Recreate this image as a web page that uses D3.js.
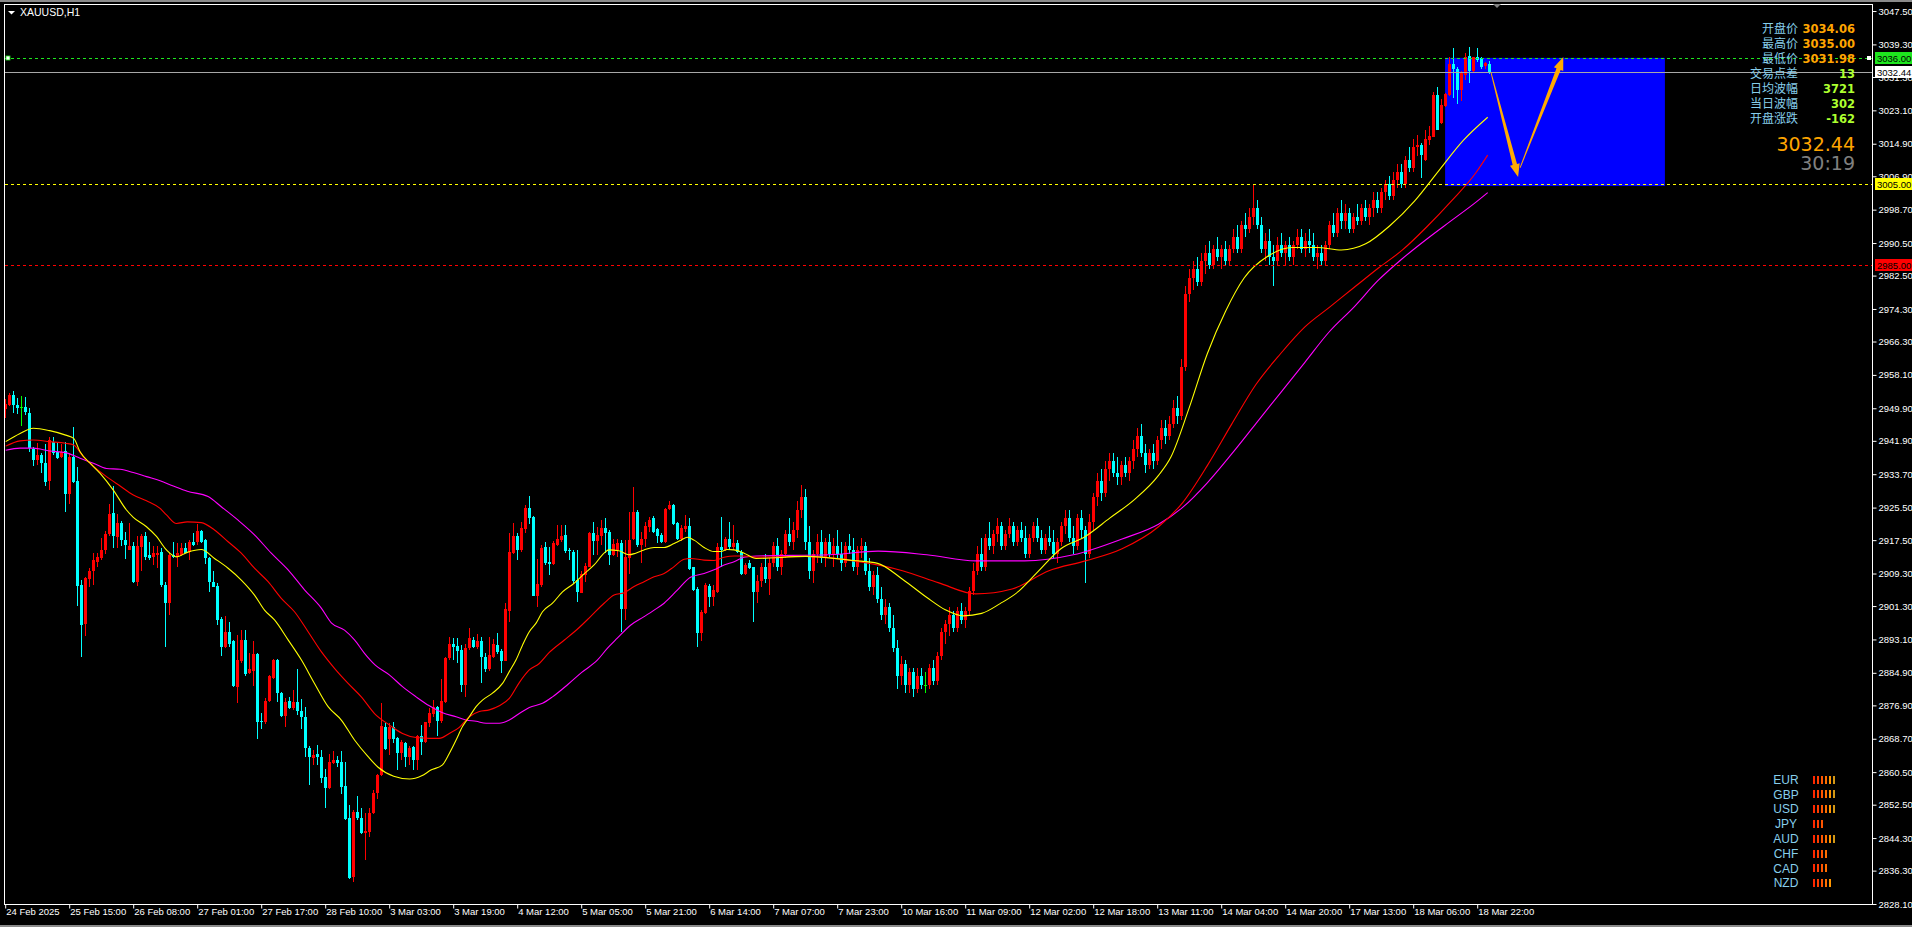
<!DOCTYPE html>
<html><head><meta charset="utf-8">
<script src="https://cdn.jsdelivr.net/npm/d3@7"></script>
<style>
html,body{margin:0;padding:0;background:#000;overflow:hidden}
svg{display:block}
</style></head>
<body><svg id="chart" width="1912" height="927"></svg>
<script>
// ---------------- DATA ----------------
const symbolTitle = "XAUUSD,H1";
const timeLabels = ["24 Feb 2025","25 Feb 15:00","26 Feb 08:00","27 Feb 01:00","27 Feb 17:00","28 Feb 10:00","3 Mar 03:00","3 Mar 19:00","4 Mar 12:00","5 Mar 05:00","5 Mar 21:00","6 Mar 14:00","7 Mar 07:00","7 Mar 23:00","10 Mar 16:00","11 Mar 09:00","12 Mar 02:00","12 Mar 18:00","13 Mar 11:00","14 Mar 04:00","14 Mar 20:00","17 Mar 13:00","18 Mar 06:00","18 Mar 22:00"];
const barsPerLabel = 16;
const priceTicks = [3047.50,3039.30,3031.30,3023.10,3014.90,3006.90,2998.70,2990.50,2982.50,2974.30,2966.30,2958.10,2949.90,2941.90,2933.70,2925.50,2917.50,2909.30,2901.30,2893.10,2884.90,2876.90,2868.70,2860.50,2852.50,2844.30,2836.30,2828.10];

// hourly candles: [open, high, low, close]
const ohlc = [
[2949.6,2952.1,2947.4,2951.0],[2950.7,2953.6,2950.5,2953.2],[2953.2,2954.2,2948.7,2950.7],[2950.7,2952.4,2948.5,2949.9],[2950.1,2952.9,2945.6,2950.1],
[2950.3,2952.6,2948.2,2949.1],[2948.8,2949.9,2939.2,2940.1],[2939.8,2940.5,2935.6,2937.2],[2937.2,2941.3,2936.0,2938.4],[2938.4,2939.0,2933.9,2936.4],
[2936.4,2941.0,2930.8,2931.9],[2932.1,2942.9,2929.8,2942.1],[2941.7,2942.8,2938.4,2939.0],[2939.2,2941.3,2937.4,2937.6],[2938.0,2941.1,2937.6,2939.2],
[2939.4,2941.7,2924.5,2928.8],[2928.8,2939.0,2926.4,2938.0],[2938.0,2945.2,2931.5,2931.9],[2932.1,2935.4,2901.2,2906.2],[2906.5,2907.7,2888.7,2896.6],
[2896.9,2908.5,2893.9,2908.1],[2907.9,2910.6,2906.1,2909.8],[2909.8,2914.4,2906.5,2912.6],[2912.2,2914.4,2911.0,2913.4],[2913.0,2918.0,2912.6,2915.2],
[2915.2,2919.8,2914.1,2919.0],[2919.0,2926.5,2918.4,2923.9],[2924.1,2930.8,2915.5,2918.4],[2918.2,2923.9,2915.5,2921.6],[2921.6,2922.3,2916.1,2917.5],
[2917.5,2919.6,2912.8,2916.3],[2915.1,2921.6,2915.1,2916.1],[2916.1,2917.1,2906.9,2907.1],[2907.3,2918.4,2906.2,2916.1],[2915.9,2919.0,2910.0,2918.5],
[2918.5,2919.6,2912.6,2913.4],[2913.8,2917.1,2912.6,2913.0],[2913.4,2916.1,2911.4,2914.4],[2913.8,2916.1,2910.6,2914.4],[2914.7,2915.5,2906.1,2906.5],
[2906.5,2907.1,2891.3,2902.1],[2902.1,2914.3,2899.1,2913.8],[2913.8,2917.1,2913.0,2913.4],[2913.4,2916.7,2910.8,2914.4],[2913.8,2916.7,2913.6,2915.5],
[2915.5,2916.7,2914.3,2914.4],[2914.7,2917.5,2912.5,2917.1],[2917.0,2919.3,2916.1,2916.3],[2917.0,2921.5,2916.3,2919.8],[2919.8,2920.0,2916.7,2917.1],
[2917.5,2917.7,2911.6,2913.0],[2913.1,2913.3,2904.8,2907.1],[2907.2,2909.8,2905.9,2906.1],[2906.2,2906.9,2896.7,2897.9],[2898.2,2898.7,2889.0,2891.3],
[2891.3,2898.9,2890.9,2895.0],[2894.9,2897.4,2891.3,2892.1],[2892.6,2893.0,2881.3,2881.7],[2881.5,2894.2,2877.6,2888.1],[2887.7,2895.4,2887.4,2893.0],
[2893.0,2895.4,2884.0,2884.5],[2884.8,2889.7,2884.6,2885.8],[2885.4,2892.7,2881.7,2889.5],[2889.5,2889.7,2868.6,2872.9],[2873.1,2875.0,2871.0,2872.7],
[2872.9,2878.6,2872.3,2878.1],[2878.1,2884.4,2877.8,2884.0],[2883.6,2888.2,2883.3,2888.1],[2888.1,2888.4,2877.8,2879.9],[2880.0,2880.2,2874.0,2874.3],
[2874.3,2878.6,2871.7,2877.8],[2878.1,2878.9,2875.9,2876.3],[2876.3,2880.8,2875.8,2877.8],[2877.8,2885.8,2874.5,2875.4],[2875.5,2878.4,2871.0,2874.0],
[2874.1,2876.6,2864.1,2866.4],[2866.5,2866.9,2857.3,2864.1],[2863.9,2866.0,2862.3,2864.7],[2864.9,2867.2,2862.3,2864.1],[2864.3,2866.0,2857.9,2859.1],
[2859.4,2861.2,2851.6,2856.5],[2856.5,2865.0,2856.3,2862.9],[2862.8,2865.8,2862.5,2863.5],[2863.5,2864.5,2861.8,2862.8],[2863.0,2865.8,2855.1,2856.9],
[2857.1,2862.9,2848.7,2848.9],[2849.2,2852.4,2834.2,2834.4],[2834.7,2851.2,2833.4,2850.8],[2850.8,2854.6,2848.7,2849.2],[2849.2,2851.6,2845.3,2845.6],
[2845.6,2850.4,2838.8,2846.1],[2845.9,2851.6,2844.6,2850.5],[2850.5,2856.1,2850.1,2855.4],[2855.3,2860.1,2853.8,2859.8],[2859.8,2877.4,2859.6,2871.8],
[2871.7,2872.5,2865.9,2866.3],[2868.6,2872.5,2864.7,2871.5],[2871.7,2872.9,2867.6,2868.6],[2869.0,2869.2,2861.0,2865.1],[2865.1,2868.4,2863.5,2868.0],
[2867.7,2868.0,2861.8,2864.1],[2864.1,2866.8,2862.3,2866.4],[2866.6,2866.9,2861.0,2863.6],[2863.6,2869.6,2861.0,2869.4],[2869.4,2872.1,2864.7,2868.0],
[2868.0,2872.9,2867.6,2872.7],[2872.5,2876.2,2871.5,2875.1],[2874.8,2878.2,2874.1,2876.4],[2876.4,2876.7,2869.4,2873.1],[2873.1,2883.5,2872.5,2878.0],
[2877.8,2888.9,2877.6,2888.6],[2888.5,2893.8,2888.0,2892.1],[2892.0,2893.4,2888.0,2891.3],[2891.5,2893.4,2887.2,2890.3],[2890.5,2891.7,2880.3,2881.9],
[2881.9,2892.0,2878.9,2891.1],[2891.1,2896.0,2890.5,2893.4],[2893.0,2893.8,2890.9,2891.3],[2891.3,2894.4,2890.7,2892.6],[2892.6,2893.8,2882.5,2888.7],
[2888.9,2889.8,2885.2,2885.8],[2885.8,2893.8,2885.4,2889.3],[2888.9,2893.2,2888.5,2892.0],[2891.7,2894.8,2889.5,2890.1],[2890.3,2890.7,2884.9,2887.9],
[2887.9,2902.0,2887.7,2900.7],[2900.2,2919.2,2897.5,2914.7],[2914.4,2921.6,2914.1,2918.5],[2918.5,2919.2,2912.5,2915.1],[2915.1,2922.0,2914.7,2920.6],
[2920.2,2926.1,2919.2,2925.5],[2925.5,2928.3,2921.5,2922.9],[2923.3,2923.4,2903.8,2903.8],[2903.8,2912.8,2901.0,2906.7],[2906.5,2916.3,2906.1,2915.6],
[2915.9,2917.1,2911.4,2911.8],[2912.2,2915.9,2908.9,2911.6],[2911.6,2917.4,2911.4,2916.7],[2916.3,2921.2,2916.1,2917.7],[2917.5,2921.2,2917.1,2918.4],
[2918.8,2921.2,2914.4,2914.9],[2915.2,2915.5,2912.6,2914.9],[2914.7,2915.2,2906.7,2907.5],[2907.7,2915.1,2902.4,2904.8],[2904.6,2909.8,2904.4,2909.2],
[2908.9,2911.8,2907.3,2911.2],[2911.0,2919.6,2910.8,2919.3],[2919.3,2922.0,2913.8,2917.4],[2917.4,2920.8,2913.8,2918.8],[2918.5,2922.4,2916.3,2920.4],
[2920.4,2922.9,2914.4,2919.3],[2919.6,2920.0,2911.4,2913.8],[2913.8,2917.7,2913.6,2916.5],[2915.2,2917.9,2913.3,2916.7],[2916.7,2917.5,2895.0,2900.5],
[2900.5,2917.5,2898.0,2913.3],[2913.0,2924.5,2909.3,2917.5],[2917.9,2930.6,2917.5,2924.5],[2924.5,2924.9,2915.9,2916.3],[2916.3,2919.6,2912.0,2917.9],
[2917.7,2922.0,2915.9,2921.0],[2920.8,2923.3,2919.6,2922.4],[2922.9,2923.4,2919.3,2919.6],[2920.2,2920.6,2916.9,2918.4],[2918.8,2919.2,2916.7,2917.1],
[2917.1,2925.3,2916.9,2925.1],[2925.1,2927.0,2924.9,2926.1],[2926.1,2926.4,2921.2,2921.5],[2921.8,2922.0,2917.5,2917.7],[2917.7,2921.2,2917.4,2920.6],
[2920.2,2923.7,2919.6,2921.0],[2921.0,2922.9,2910.2,2910.3],[2910.8,2911.0,2905.1,2905.2],[2905.4,2905.9,2891.3,2894.6],[2894.6,2900.3,2892.6,2899.9],
[2899.7,2906.9,2899.3,2906.5],[2906.2,2906.7,2901.1,2903.6],[2903.6,2906.5,2901.3,2905.2],[2904.8,2916.9,2904.6,2915.7],[2915.7,2923.3,2911.0,2915.1],
[2915.1,2918.3,2914.9,2917.7],[2917.7,2922.0,2915.1,2915.7],[2915.7,2921.2,2915.1,2916.9],[2916.9,2917.5,2914.4,2914.7],[2914.7,2915.1,2908.9,2909.2],
[2909.2,2911.8,2908.9,2911.4],[2911.8,2912.6,2910.3,2910.6],[2910.8,2911.0,2897.5,2904.8],[2904.8,2909,2902,2907.5],[2907.5,2912,2906,2911],
[2911,2914,2907,2908],[2908,2913,2904,2912],[2912,2917,2911,2916],[2916,2918,2910,2911],[2911,2915,2909,2914],
[2914,2920,2913,2919],[2919,2923,2916,2917],[2917,2922,2915,2920],[2920,2927,2918,2925],[2925,2931,2923,2928],
[2928,2930,2915,2917],[2917,2921,2908,2910],[2910,2915,2907,2914],[2914,2919,2912,2917],[2917,2920,2912,2913],
[2913,2918,2911,2917],[2917,2919,2913,2914],[2914,2918,2911,2916],[2916,2920,2913,2914],[2914,2917,2910,2912],
[2912,2917,2911,2916],[2916,2919,2914,2915],[2915,2918,2910,2911],[2911,2916,2909,2915],[2915,2918,2913,2916],
[2916,2917,2909,2910],[2910,2913,2905,2906],[2906,2910,2904,2909],[2909,2911,2902,2903],[2903,2906,2898,2899],
[2899,2903,2897,2901],[2901,2902,2895,2896],[2896,2899,2890,2891],[2891,2893,2881,2884],[2884,2889,2882,2887],
[2887,2888,2880,2882],[2882,2886,2880,2885],[2885,2886,2879,2881],[2881,2886,2880,2884],[2884,2886,2881,2882],
[2882,2885,2880,2882],[2882,2887,2881,2886],[2886,2888,2882,2883],[2883,2890,2882,2889],[2889,2896,2888,2895],
[2895,2898,2892,2897],[2897,2901,2894,2899],[2899,2900,2895,2896],[2896,2901,2895,2900],[2900,2902,2897,2898],
[2898,2901,2896,2900],[2900,2906,2899,2905],[2905,2912,2904,2910],[2910,2916,2909,2914],[2914,2918,2910,2911],
[2911,2919,2910,2918],[2918,2922,2915,2916],[2916,2920,2914,2919],[2919,2923,2917,2921],[2921,2922,2915,2916],
[2916,2920,2915,2919],[2919,2923,2918,2921],[2921,2922,2916,2917],[2917,2921,2916,2920],[2920,2922,2917,2918],
[2918,2921,2913,2914],[2914,2919,2913,2918],[2918,2922,2917,2921],[2921,2923,2917,2918],[2918,2920,2914,2915],
[2915,2919,2914,2918],[2918,2921,2916,2917],[2917,2920,2913,2914],[2914,2918,2912,2917],[2917,2922,2916,2921],
[2921,2925,2919,2923],[2923,2925,2917,2918],[2918,2921,2914,2916],[2916,2924,2915,2923],[2923,2925,2918,2920],
[2920,2921,2907,2914],[2914,2924,2913,2922],[2922,2929,2920,2928],[2928,2934,2926,2932],[2932,2935,2927,2929],
[2929,2937,2928,2935],[2935,2939,2932,2937],[2937,2939,2933,2934],[2934,2938,2931,2933],[2933,2937,2931,2936],
[2936,2938,2933,2934],[2934,2938,2932,2937],[2937,2942,2935,2940],[2940,2945,2938,2943],[2943,2946,2938,2939],
[2939,2941,2934,2936],[2936,2940,2935,2939],[2939,2941,2935,2937],[2937,2943,2936,2942],[2942,2947,2940,2945],
[2945,2947,2941,2943],[2943,2948,2942,2946],[2946,2952,2945,2950],[2950,2953,2946,2948],[2948,2962,2947,2960],
[2960,2980,2959,2978],[2978,2984,2976,2982],[2982,2986,2979,2984],[2984,2987,2980,2981],[2981,2988,2980,2986],
[2986,2990,2983,2988],[2988,2991,2984,2985],[2985,2990,2984,2989],[2989,2992,2986,2987],[2987,2990,2984,2989],
[2989,2991,2985,2986],[2986,2990,2985,2989],[2989,2994,2988,2992],[2992,2995,2988,2989],[2989,2996,2988,2995],
[2995,2998,2992,2994],[2994,2999,2993,2997],[2997,3005,2995,2999],[2999,3001,2994,2995],[2995,2997,2988,2989],
[2989,2993,2986,2991],[2991,2994,2985,2987],[2987,2990,2980,2986],[2986,2992,2985,2990],[2990,2993,2987,2988],
[2988,2991,2985,2990],[2990,2992,2986,2987],[2987,2991,2985,2990],[2990,2994,2989,2992],[2992,2994,2988,2989],
[2989,2993,2987,2991],[2991,2994,2988,2990],[2990,2993,2986,2987],[2987,2990,2984,2988],[2988,2990,2985,2986],
[2986,2991,2985,2990],[2990,2996,2989,2995],[2995,2998,2992,2993],[2993,2999,2992,2998],[2998,3001,2994,2996],
[2996,3000,2994,2998],[2998,2999,2993,2994],[2994,2998,2993,2997],[2997,3000,2995,2996],[2996,3000,2995,2999],
[2999,3001,2996,2997],[2997,3000,2995,2999],[2999,3003,2997,3001],[3001,3003,2998,2999],[2999,3004,2998,3003],
[3003,3006,3001,3005],[3005,3007,3001,3002],[3002,3008,3001,3006],[3006,3010,3004,3008],[3008,3010,3004,3005],
[3005,3012,3004,3011],[3011,3014,3008,3009],[3009,3016,3008,3014],[3014,3017,3012,3014.6],[3014.6,3015.0,3006.4,3012.1],
[3010.9,3018.3,3010.7,3016.1],[3015.8,3019.3,3014.6,3016.8],[3016.6,3027.7,3016.5,3026.9],[3026.9,3028.8,3018.3,3018.3],[3019.9,3026.0,3019.7,3024.4],
[3024.2,3027.4,3024.0,3027.1],[3026.9,3036.1,3026.7,3034.6],[3034.6,3038.3,3026.1,3033.2],[3033.2,3033.8,3024.7,3028.1],[3028.1,3032.8,3025.5,3032.2],
[3031.8,3037.1,3030.6,3036.1],[3036.5,3038.6,3029.9,3032.8],[3032.8,3036.3,3032.6,3036.1],[3036.1,3038.3,3035.1,3035.5],[3036.0,3036.3,3033.2,3033.8],
[3034.0,3035.1,3033.2,3034.8],[3034.6,3035.3,3032.0,3032.44]
];

// moving averages: [bar index, price]
const maYellow = [[0,2941.7],[3.6,2943.7],[6.9,2945.0],[11,2944.4],[15,2943.3],[17,2942.5],[18.6,2939.2],[21.1,2936.4],[23.6,2933.9],[26.9,2929.8],[30.2,2924.9],[31.9,2923.1],[35.2,2920.8],[37.7,2918.4],[40.2,2915.1],[42.7,2913.4],[45.4,2914.5],[48.9,2915.2],[52.2,2913.0],[55.6,2910.6],[58.9,2907.7],[62.2,2904.0],[64.7,2900.3],[67.2,2897.9],[70.6,2893.0],[73.9,2888.1],[77.2,2882.3],[80.6,2876.6],[83.9,2873.3],[87.2,2868.4],[90.6,2864.3],[93.1,2861.7],[97,2859.5],[101,2858.8],[104,2859.6],[106.3,2861.0],[109.2,2862.3],[110.9,2865.1],[112.6,2868.4],[114.2,2871.7],[115.9,2874.1],[117.6,2876.6],[119.2,2878.2],[121.7,2879.9],[124.2,2882.3],[125.9,2885.2],[127.6,2888.1],[129.2,2891.7],[130.9,2895.0],[132.6,2897.1],[134.2,2899.9],[136.7,2902.0],[139.2,2904.8],[142.1,2906.9],[144.6,2909.2],[147.1,2911.4],[149.6,2914.3],[150.8,2915.1],[153.3,2914.9],[155.8,2913.9],[157.5,2914.3],[159.6,2915.1],[162.1,2915.7],[164.6,2915.7],[167.1,2916.7],[168.8,2917.5],[170.4,2918.2],[172.1,2917.5],[174.6,2915.7],[177.1,2914.7],[178.8,2914.7],[180.4,2915.2],[182.1,2915.1],[184.6,2914.3],[187.6,2913.0],[200,2913.5],[212,2912.5],[218,2911.8],[224.2,2907.9],[230.3,2903.4],[234.9,2900.4],[239.4,2898.9],[244,2899.5],[248.6,2901.9],[253.2,2904.9],[257.7,2909.4],[263.8,2915.4],[269.9,2918.4],[276,2922.9],[282.1,2927.4],[288.2,2933.4],[291.3,2937.9],[295.8,2949.8],[300.4,2963.3],[305,2973.8],[309.6,2981.9],[315.6,2987.3],[321.7,2989.4],[327.9,2989.4],[333.9,2988.8],[340,2990.3],[346.1,2994.8],[352.2,3000.8],[358.3,3008.3],[364.4,3015.7],[370.5,3021.4]];
const maRed = [[0,2940.6],[3.6,2941.9],[6.9,2942.1],[11,2941.7],[15,2941.3],[17,2940.9],[19.4,2938.0],[21.9,2935.7],[25.2,2933.1],[28.6,2930.8],[31.9,2928.6],[35.2,2927.2],[38.6,2925.3],[40.2,2923.7],[42.7,2921.6],[45.4,2922.0],[48.9,2921.8],[52.2,2920.0],[55.6,2917.1],[58.9,2914.3],[62.2,2910.6],[65.6,2907.3],[68.9,2903.2],[72.2,2899.9],[75.6,2895.0],[78.9,2890.1],[82.2,2886.0],[85.6,2882.3],[88.9,2879.0],[92.2,2874.9],[95.9,2872.1],[99.2,2870.0],[102.6,2869.0],[105.9,2868.8],[108.4,2868.8],[110.9,2870.0],[113.4,2871.5],[115.9,2874.1],[118.4,2875.4],[120.9,2875.8],[123.4,2876.8],[125.9,2878.6],[128.4,2882.5],[130.9,2885.6],[133.4,2887.2],[135.9,2889.9],[139.6,2892.9],[142.9,2895.6],[146.2,2898.7],[149.6,2902.0],[152.1,2904.0],[154.6,2904.6],[157.1,2906.1],[159.6,2907.3],[162.1,2908.5],[164.6,2909.3],[167.1,2911.0],[169.6,2912.8],[171.2,2913.0],[174.6,2912.6],[177.1,2912.5],[179.6,2913.3],[182.1,2913.6],[184.6,2913.6],[187.6,2913.3],[200,2913.5],[212,2912.4],[224.2,2910.0],[233.3,2907.0],[242.5,2904.3],[251.6,2905.5],[260.8,2910.0],[269.9,2912.4],[279.1,2915.4],[288.2,2920.8],[294.3,2926.8],[300.4,2935.8],[306.5,2946.0],[312.6,2955.8],[318.7,2963.3],[324.8,2969.9],[330.9,2974.7],[337,2979.5],[343.1,2984.3],[349.2,2988.8],[355.3,2994.5],[361.4,3000.8],[367.5,3007.7],[370.5,3012.1]];
const maMagenta = [[0,2939.6],[3.6,2940.1],[6.9,2940.1],[11,2939.4],[15,2939.0],[18.6,2937.6],[21.9,2936.4],[25.2,2935.1],[28.6,2934.9],[31.9,2934.1],[35.2,2933.1],[38.6,2932.1],[41.9,2930.8],[45.4,2929.5],[50.6,2928.2],[53.9,2925.7],[58.1,2922.4],[62.2,2918.8],[66.4,2914.3],[70.6,2910.2],[74.7,2905.3],[78.9,2900.8],[81.4,2897.2],[84.7,2895.4],[87.2,2893.0],[89.7,2889.7],[92.4,2886.8],[95.9,2884.4],[99.2,2881.5],[102.6,2879.0],[105.9,2876.8],[109.2,2875.1],[112.6,2874.1],[115.1,2873.3],[117.6,2873.0],[120.1,2872.5],[123.4,2872.5],[125.9,2873.3],[128.4,2874.9],[130.9,2876.4],[134.2,2877.4],[136.7,2879.0],[140.6,2882.1],[144,2885.0],[147.9,2888.0],[150.4,2890.9],[152.9,2893.4],[156.2,2896.6],[159.6,2898.7],[162.1,2900.3],[164.6,2902.0],[167.9,2905.2],[171.2,2908.4],[174.6,2909.3],[177.1,2910.2],[179.6,2911.4],[182.1,2912.2],[184.6,2913.3],[187.6,2913.6],[205.9,2913.9],[218.1,2914.8],[230.3,2913.9],[242.5,2912.4],[254.7,2912.4],[266.9,2913.9],[279.1,2917.8],[288.2,2921.4],[294.3,2925.6],[300.4,2931.6],[306.5,2938.7],[312.6,2946.2],[318.7,2953.7],[324.8,2961.2],[330.9,2968.7],[337,2974.7],[343.1,2981.3],[349.2,2986.7],[355.3,2991.5],[361.4,2996.0],[367.5,3000.5],[370.5,3002.9]];

// horizontal levels
const levelPrices = [3036.00, 3005.00, 2985.00];
const levelLabels = ["3036.00", "3005.00", "2985.00"];
const bidPrice = 3032.44;
const bidLabel = "3032.44";
// target zone (bar indices / prices) and projected path
const zoneBars = [359.85, 414.8];
const zonePrices = [3036.0, 3004.5];
const arrowLegs = [[[371.3, 3032.5], [378.1, 3006.7]], [[378.6, 3009.0], [389.4, 3036.2]]];
// info panel
const infoLabels = ["开盘价", "最高价", "最低价", "交易点差", "日均波幅", "当日波幅", "开盘涨跌"];
const infoValues = ["3034.06", "3035.00", "3031.98", "13", "3721", "302", "-162"];
const bigPrice = "3032.44";
const countdown = "30:19";
// currency strength
const currencies = ["EUR", "GBP", "USD", "JPY", "AUD", "CHF", "CAD", "NZD"];
const strength = [6, 6, 6, 3, 6, 4, 4, 5];

// ---------------- DRAWING ----------------
const svg = d3.select("#chart");
const FONT = "'Liberation Sans', Arial, sans-serif";
const L = 5, T = 5, R = 1872, B = 904;
const pxPerBar = 4;
const x = d3.scaleLinear().domain([0, 1]).range([5.7, 5.7 + pxPerBar]);
const y = d3.scaleLinear().domain([2828.1, 3047.5]).range([904, 904 - 219.4 * 4.07]);

svg.append("rect").attr("width", 1912).attr("height", 927).attr("fill", "#000");
// window edges
svg.append("rect").attr("x", 0).attr("y", 0).attr("width", 1912).attr("height", 2).attr("fill", "#8a8a8a");
svg.append("rect").attr("x", 0).attr("y", 925).attr("width", 1912).attr("height", 2).attr("fill", "#8a8a8a");

const defs = svg.append("defs");
defs.append("clipPath").attr("id", "plot").append("rect")
  .attr("x", L).attr("y", T).attr("width", R - L).attr("height", B - T);

const g = svg.append("g").attr("clip-path", "url(#plot)");

// zone rectangle
g.append("rect")
  .attr("x", x(zoneBars[0])).attr("y", y(zonePrices[0]))
  .attr("width", x(zoneBars[1]) - x(zoneBars[0]))
  .attr("height", y(zonePrices[1]) - y(zonePrices[0]))
  .attr("fill", "#0000FF");

// candles
const candleColor = d => d[3] > d[0] ? "#FF0000" : (d[3] < d[0] ? "#00FFFF" : "#00FF00");
const cg = g.append("g").attr("shape-rendering", "crispEdges");
cg.selectAll("rect.w").data(ohlc).join("rect").attr("class", "w")
  .attr("x", (d, i) => Math.floor(x(i)))
  .attr("width", 1)
  .attr("y", d => Math.round(y(d[1])))
  .attr("height", d => Math.max(1, Math.round(y(d[2])) - Math.round(y(d[1]))))
  .attr("fill", candleColor);
cg.selectAll("rect.b").data(ohlc).join("rect").attr("class", "b")
  .attr("x", (d, i) => Math.floor(x(i)) - 1)
  .attr("width", 3)
  .attr("y", d => Math.round(y(Math.max(d[0], d[3]))))
  .attr("height", d => Math.max(1, Math.round(y(Math.min(d[0], d[3]))) - Math.round(y(Math.max(d[0], d[3])))))
  .attr("fill", candleColor);

// moving averages
const maLine = d3.line().x(d => x(d[0])).y(d => y(d[1])).curve(d3.curveMonotoneX);
[[maMagenta, "#FF00FF"], [maRed, "#FF0000"], [maYellow, "#FFFF00"]].forEach(([data, col]) => {
  g.append("path").attr("d", maLine(data)).attr("fill", "none").attr("stroke", col).attr("stroke-width", 1.1);
});

// horizontal levels
const levelColors = ["#1EE61E", "#FFFF00", "#FF0000"];
levelPrices.forEach((p, i) => {
  const yy = Math.round(y(p)) + 0.5;
  g.append("line").attr("x1", L).attr("x2", R).attr("y1", yy).attr("y2", yy)
    .attr("stroke", levelColors[i]).attr("stroke-width", 1).attr("stroke-dasharray", "3,3");
});
// bid line
{
  const yy = Math.round(y(bidPrice)) + 0.5;
  g.append("line").attr("x1", L).attr("x2", R).attr("y1", yy).attr("y2", yy)
    .attr("stroke", "#A8A8A8").attr("stroke-width", 1);
}
// alert markers on green line
{
  const yy = Math.round(y(levelPrices[0]));
  svg.append("rect").attr("x", 6).attr("y", yy - 2).attr("width", 4).attr("height", 4).attr("fill", "#fff").attr("stroke", "#1EE61E").attr("stroke-width", 0.8);
  svg.append("rect").attr("x", 1867).attr("y", yy - 2).attr("width", 4).attr("height", 4).attr("fill", "#fff");
}

// tapered arrows
function arrowPoly(p0, p1, w0, w1, hw, hl) {
  const dx = p1[0] - p0[0], dy = p1[1] - p0[1];
  const len = Math.hypot(dx, dy), ux = dx / len, uy = dy / len, nx = -uy, ny = ux;
  const bx = p1[0] - ux * hl, by = p1[1] - uy * hl;
  return [
    [p0[0] + nx * w0 / 2, p0[1] + ny * w0 / 2],
    [bx + nx * w1 / 2, by + ny * w1 / 2],
    [bx + nx * hw / 2, by + ny * hw / 2],
    [p1[0], p1[1]],
    [bx - nx * hw / 2, by - ny * hw / 2],
    [bx - nx * w1 / 2, by - ny * w1 / 2],
    [p0[0] - nx * w0 / 2, p0[1] - ny * w0 / 2]
  ].map(p => p.join(",")).join(" ");
}
arrowLegs.forEach(leg => {
  const p0 = [x(leg[0][0]), y(leg[0][1])], p1 = [x(leg[1][0]), y(leg[1][1])];
  g.append("polygon").attr("points", arrowPoly(p0, p1, 0.8, 4.5, 10, 13)).attr("fill", "#FFAA00");
});

// frame
svg.append("rect").attr("x", 4.5).attr("y", 4.5).attr("width", R - 4).attr("height", B - 4)
  .attr("fill", "none").attr("stroke", "#FFFFFF").attr("stroke-width", 1);

// price axis
const yAxis = d3.axisRight(y).tickValues(priceTicks).tickSize(4).tickPadding(2).tickFormat(d3.format(".2f"));
const ya = svg.append("g").attr("transform", `translate(${R + 0.5},0)`).call(yAxis);
ya.select(".domain").remove();
ya.selectAll("line").attr("stroke", "#FFFFFF");
ya.selectAll("text").attr("fill", "#FFFFFF").attr("font-family", FONT).attr("font-size", "9.5px");

// time axis
const xTicks = timeLabels.map((t, i) => i * barsPerLabel);
const xAxis = d3.axisBottom(x).tickValues(xTicks).tickSize(4).tickFormat((d, i) => timeLabels[i]);
const xa = svg.append("g").attr("transform", `translate(0,${B + 0.5})`).call(xAxis);
xa.select(".domain").remove();
xa.selectAll("line").attr("stroke", "#FFFFFF").attr("transform", "translate(-0.5,0)");
xa.selectAll("text").attr("fill", "#FFFFFF").attr("font-family", FONT).attr("font-size", "9.5px")
  .attr("text-anchor", "start").attr("x", 0).attr("y", 4).attr("dy", "0.71em");

// price label boxes
const boxColors = ["#1EE61E", "#FFFF00", "#FF0000"];
function priceBox(p, label, fill) {
  const yy = Math.round(y(p));
  svg.append("rect").attr("x", R + 3).attr("y", yy - 6).attr("width", 1912 - R - 3).attr("height", 12).attr("fill", fill);
  svg.append("text").attr("x", R + 5).attr("y", yy + 3.5).text(label)
    .attr("fill", "#000").attr("font-family", FONT).attr("font-size", "9.5px");
}
levelPrices.forEach((p, i) => priceBox(p, levelLabels[i], boxColors[i]));
priceBox(bidPrice, bidLabel, "#FFFFFF");

// chart shift marker
svg.append("polygon").attr("points", "1493,4 1501,4 1497,8").attr("fill", "#808080");

// title
svg.append("polygon").attr("points", "8,11 15,11 11.5,14.5").attr("fill", "#FFFFFF");
svg.append("text").attr("x", 20).attr("y", 16).text(symbolTitle)
  .attr("fill", "#FFFFFF").attr("font-family", FONT).attr("font-size", "10.5px");

// info panel
const rowY = d3.scaleLinear().domain([0, 1]).range([28.3, 43.3]);
infoLabels.forEach((t, i) => {
  svg.append("text").attr("x", 1798).attr("y", rowY(i) + 4.5).attr("text-anchor", "end").text(t)
    .attr("fill", "#87CEEB").attr("font-family", "'Noto Sans CJK SC', sans-serif").attr("font-size", "12px");
  svg.append("text").attr("x", 1855).attr("y", rowY(i) + 4.5).attr("text-anchor", "end").text(infoValues[i])
    .attr("fill", i < 3 ? "#FFA500" : "#ADFF2F").attr("font-family", "'DejaVu Sans', sans-serif")
    .attr("font-weight", "bold").attr("font-size", "11.5px");
});
svg.append("text").attr("x", 1855).attr("y", 151).attr("text-anchor", "end").text(bigPrice)
  .attr("fill", "#FFA500").attr("font-family", "'DejaVu Sans', sans-serif").attr("font-size", "19px");
svg.append("text").attr("x", 1855).attr("y", 170).attr("text-anchor", "end").text(countdown)
  .attr("fill", "#808080").attr("font-family", "'DejaVu Sans', sans-serif").attr("font-size", "19px");

// currency strength panel
const barColors = ["#FF2800", "#FF3C00", "#FF5500", "#FF6E00", "#FF9600", "#D29614"];
const curY = d3.scaleLinear().domain([0, 1]).range([779.5, 794.3]);
currencies.forEach((c, i) => {
  const cy = curY(i);
  svg.append("text").attr("x", 1786).attr("y", cy + 4.3).attr("text-anchor", "middle").text(c)
    .attr("fill", "#87CEEB").attr("font-family", FONT).attr("font-size", "12px");
  d3.range(strength[i]).forEach(k => {
    svg.append("rect").attr("x", 1813 + k * 4).attr("y", Math.round(cy - 4)).attr("width", 2).attr("height", 8)
      .attr("fill", barColors[k]);
  });
});
</script>
</body></html>
